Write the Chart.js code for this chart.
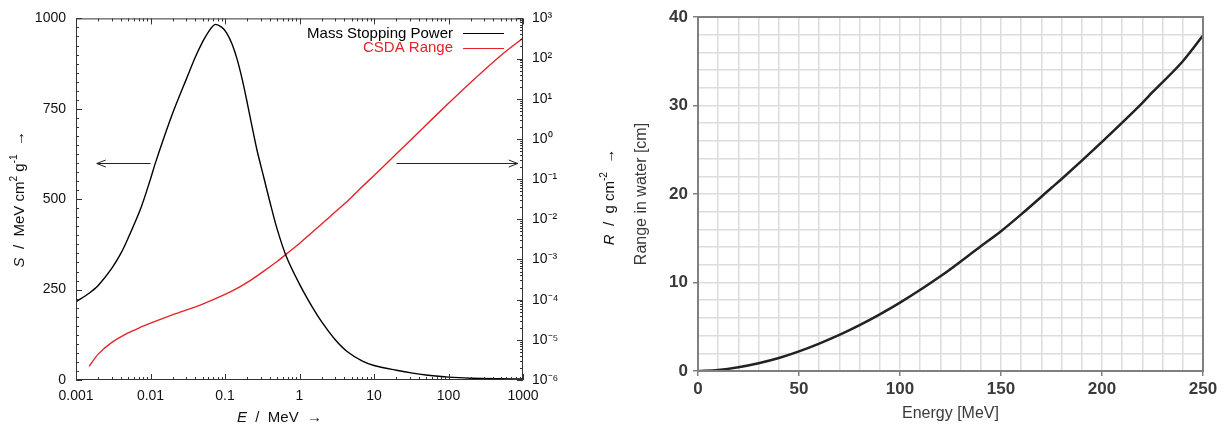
<!DOCTYPE html>
<html><head><meta charset="utf-8">
<script src="https://cdn.jsdelivr.net/npm/chart.js@4.4.1/dist/chart.umd.min.js"></script>
<style>
html,body{margin:0;padding:0;background:#fff;}
#wrap{position:relative;width:1226px;height:427px;overflow:hidden;}
#c1box{position:absolute;left:0;top:0;width:560px;height:427px;}
#c2box{position:absolute;left:560px;top:0;width:666px;height:427px;}
</style></head><body>
<div id="wrap"><div id="c1box"><canvas id="c1"></canvas></div><div id="c2box"><canvas id="c2"></canvas></div></div>
<script>
// ---- Left chart data (protons in water) ----
const spEnergy = [0.001,0.0015,0.002,0.003,0.004,0.005,0.0075,0.01,0.0115,0.015,0.02,0.025,0.03,0.04,0.05,0.06,0.073,0.09,0.105,0.125,0.145,0.17,0.195,0.235,0.27,0.33,0.4,0.5,0.67,1,1.5,2,3,4.4,7,10,20,33,50,100,200,500,1000];
const stoppingPower = [216,240,262,308,350,392,478,556,597,668,740,790,830,893,935,963,983,976,960,928,888,832,775,693,634,562,493,418,340,265,200,160,112,78,52,40,27,19,14,8,5,3.5,3];
const csdaEnergy = [0.0015,0.002,0.003,0.005,0.0075,0.01,0.02,0.05,0.1,0.158,0.22,0.35,0.5,0.67,1,2,3,4.5,6.5,10,20,50,100,200,500,1000];
const csdaRange = [2.19e-6,4.47e-6,8.5e-6,1.48e-5,2.09e-5,2.6e-5,4.22e-5,7.76e-5,1.35e-4,2.09e-4,3.02e-4,5.5e-4,8.9e-4,1.38e-3,2.51e-3,7.76e-3,1.51e-2,2.95e-2,5.75e-2,0.123,0.426,2.22,7.72,25.9,118,325];
const seriesNames = ['Mass Stopping Power','CSDA Range'];
const logXTicks = [0.001,0.01,0.1,1,10,100,1000];
const logXLabels = ['0.001','0.01','0.1','1','10','100','1000'];
const spTicks = [0,250,500,750,1000];
const spLabels = ['0','250','500','750','1000'];
const rangeLogTicks = [1e-6,1e-5,1e-4,1e-3,1e-2,1e-1,1,10,100,1000];
const rangeLogLabels = ['10⁻⁶','10⁻⁵','10⁻⁴','10⁻³','10⁻²','10⁻¹','10⁰','10¹','10²','10³'];
const arrowLevel = 600;
const leftArrowE = [0.01, 0.0019];
const rightArrowE = [20, 850];

// ---- Right chart data ----
const protonEnergy = [0,10,20,30,40,50,60,70,80,90,100,120,140,150,160,175,180,200,220,225,240,250];
const rangeWater = [0,0.12,0.43,0.88,1.47,2.22,3.1,4.08,5.18,6.4,7.72,10.7,14.1,15.8,17.7,20.7,21.7,25.9,30.3,31.5,35.0,37.9];
const energyTicks = [0,50,100,150,200,250];
const rangeTicks = [0,10,20,30,40];

const FAM = '"Liberation Sans", Arial, Helvetica, sans-serif';
const RED = '#e3242b';

function drawRich(ctx, segs, cx, cy, rot, size, color) {
  ctx.save();
  ctx.translate(cx, cy); ctx.rotate(rot);
  let total = 0;
  const parts = segs.map(s => {
    const sz = s.sup ? size * 0.68 : size;
    const f = (s.it ? 'italic ' : '') + sz + 'px ' + FAM;
    ctx.font = f;
    const w = ctx.measureText(s.t).width;
    total += w;
    return {t: s.t, f, w, dy: s.sup ? -size * 0.38 : 0};
  });
  let x = -total / 2;
  ctx.fillStyle = color; ctx.textBaseline = 'middle'; ctx.textAlign = 'left';
  for (const p of parts) { ctx.font = p.f; ctx.fillText(p.t, x, p.dy); x += p.w; }
  ctx.restore();
}

function arrow(ctx, x0, x1, y) {
  ctx.beginPath(); ctx.moveTo(x0, y); ctx.lineTo(x1, y); ctx.stroke();
  const d = x1 > x0 ? -1 : 1;
  ctx.beginPath(); ctx.moveTo(x1 + d * 9, y - 3.5); ctx.lineTo(x1, y); ctx.lineTo(x1 + d * 9, y + 3.5); ctx.stroke();
}

const leftDecor = {
  id: 'leftDecor',
  afterDatasetsDraw(chart) {
    const {ctx, chartArea: a, scales} = chart;
    const sx = scales.x, sy = scales.y, sy1 = scales.y1;
    ctx.save();
    ctx.strokeStyle = '#333'; ctx.lineWidth = 1;
    ctx.strokeRect(a.left + 0.5, a.top + 0.5, a.right - a.left - 1, a.bottom - a.top - 1);
    ctx.beginPath();
    for (let d = 0.001; d < 1000 * 1.01; d *= 10) {
      for (let m = 1; m <= 9; m++) {
        const v = d * m; if (v > 1000 * 1.001) break;
        const px = Math.round(sx.getPixelForValue(v)) + 0.5;
        const L = m === 1 ? 6 : 3;
        ctx.moveTo(px, a.bottom); ctx.lineTo(px, a.bottom - L);
        ctx.moveTo(px, a.top); ctx.lineTo(px, a.top + L);
      }
    }
    for (let v = 0; v <= 1000; v += 25) {
      const py = Math.round(sy.getPixelForValue(v)) + 0.5;
      const L = v % 250 === 0 ? 6 : 3;
      ctx.moveTo(a.left, py); ctx.lineTo(a.left + L, py);
    }
    for (let d = 1e-6; d < 1000 * 1.01; d *= 10) {
      for (let m = 1; m <= 9; m++) {
        const v = d * m; if (v > 1000 * 1.001) break;
        const py = Math.round(sy1.getPixelForValue(v)) + 0.5;
        const L = m === 1 ? 6 : 3;
        ctx.moveTo(a.right, py); ctx.lineTo(a.right - L, py);
      }
    }
    ctx.stroke();
    ctx.strokeStyle = '#222'; ctx.lineWidth = 1;
    const ay = Math.round(sy.getPixelForValue(arrowLevel)) + 0.5;
    arrow(ctx, sx.getPixelForValue(leftArrowE[0]), sx.getPixelForValue(leftArrowE[1]), ay);
    arrow(ctx, sx.getPixelForValue(rightArrowE[0]), sx.getPixelForValue(rightArrowE[1]), ay);
    const colors = ['#000', RED];
    ctx.font = '15px ' + FAM; ctx.textAlign = 'right'; ctx.textBaseline = 'middle';
    seriesNames.forEach((n, i) => {
      const y = a.top + 15 + i * 14.5;
      ctx.fillStyle = colors[i];
      ctx.fillText(n, a.right - 70, y);
      ctx.strokeStyle = colors[i]; ctx.lineWidth = 1;
      ctx.beginPath(); ctx.moveTo(a.right - 60, Math.round(y) + 0.5); ctx.lineTo(a.right - 19, Math.round(y) + 0.5); ctx.stroke();
    });
    drawRich(ctx, [{t:'S', it:1},{t:'  /  MeV cm'},{t:'2', sup:1},{t:' g'},{t:'-1', sup:1},{t:'  →'}], 20, (a.top + a.bottom) / 2, -Math.PI / 2, 15, '#111');
    drawRich(ctx, [{t:'E', it:1},{t:'  /  MeV  →'}], (a.left + a.right) / 2 - 20, 418, 0, 15, '#111');
    ctx.restore();
  }
};

new Chart(document.getElementById('c1'), {
  type: 'line',
  data: {
    datasets: [
      {label: seriesNames[0], data: spEnergy.map((e, i) => ({x: e, y: stoppingPower[i]})), yAxisID: 'y', borderColor: '#000', borderWidth: 1.4, pointRadius: 0, tension: 0.3, fill: false},
      {label: seriesNames[1], data: csdaEnergy.map((e, i) => ({x: e, y: csdaRange[i]})), yAxisID: 'y1', borderColor: RED, borderWidth: 1.4, pointRadius: 0, tension: 0.3, fill: false}
    ]
  },
  options: {
    responsive: true, maintainAspectRatio: false, animation: false,
    layout: {padding: {top: 17, left: 0, right: 0, bottom: 0}},
    plugins: {legend: {display: false}, tooltip: {enabled: false}},
    scales: {
      x: {type: 'logarithmic', min: 0.001, max: 1000,
          afterBuildTicks: s => { s.ticks = logXTicks.map(v => ({value: v})); },
          afterFit: s => { s.height = 47; },
          grid: {display: false, drawTicks: false}, border: {display: false},
          ticks: {callback: (v, i) => logXLabels[i], autoSkip: false, maxRotation: 0, padding: 8, color: '#111', font: {family: FAM, size: 14}}},
      y: {type: 'linear', position: 'left', min: 0, max: 1000,
          afterBuildTicks: s => { s.ticks = spTicks.map(v => ({value: v})); },
          afterFit: s => { s.width = 76; },
          grid: {display: false, drawTicks: false}, border: {display: false},
          ticks: {callback: (v, i) => spLabels[i], padding: 10, color: '#111', font: {family: FAM, size: 14}}},
      y1: {type: 'logarithmic', position: 'right', min: 1e-6, max: 1000,
          afterBuildTicks: s => { s.ticks = rangeLogTicks.map(v => ({value: v})); },
          afterFit: s => { s.width = 37; },
          grid: {display: false, drawTicks: false}, border: {display: false},
          ticks: {callback: (v, i) => rangeLogLabels[i], autoSkip: false, padding: 9, color: '#111', font: {family: FAM, size: 14}}}
    }
  },
  plugins: [leftDecor]
});

const rightDecor = {
  id: 'rightDecor',
  afterDatasetsDraw(chart) {
    const {ctx, chartArea: a} = chart;
    ctx.save();
    ctx.strokeStyle = '#808080'; ctx.lineWidth = 2;
    ctx.strokeRect(a.left, a.top, a.right - a.left, a.bottom - a.top);
    drawRich(ctx, [{t:'R', it:1},{t:'  /  g cm'},{t:'-2', sup:1},{t:'  →'}], 50, (a.top + a.bottom) / 2 + 3, -Math.PI / 2, 15, '#111');
    ctx.restore();
  }
};

new Chart(document.getElementById('c2'), {
  type: 'line',
  data: {
    datasets: [{label: 'Range', data: protonEnergy.map((e, i) => ({x: e, y: rangeWater[i]})), borderColor: '#222', borderWidth: 2.5, pointRadius: 0, cubicInterpolationMode: 'monotone', fill: false}]
  },
  options: {
    responsive: true, maintainAspectRatio: false, animation: false,
    layout: {padding: {top: 17, left: 0, right: 23, bottom: 0}},
    plugins: {legend: {display: false}, tooltip: {enabled: false}},
    scales: {
      x: {type: 'linear', min: 0, max: 250,
          afterFit: s => { s.height = 56; },
          grid: {color: '#dcdcdc', lineWidth: 1.5, tickLength: 5, tickColor: c => energyTicks.includes(c.tick.value) ? '#808080' : 'rgba(0,0,0,0)'},
          border: {display: false},
          ticks: {stepSize: 10, autoSkip: false, maxRotation: 0, padding: 3, callback: v => energyTicks.includes(v) ? String(v) : '', color: '#3a3a3a', font: {family: FAM, size: 17, weight: 'bold'}},
          title: {display: true, text: 'Energy [MeV]', color: '#3a3a3a', font: {family: FAM, size: 16}, padding: {top: 0, bottom: 4}}},
      y: {type: 'linear', min: 0, max: 40,
          afterFit: s => { s.width = 138; },
          grid: {color: '#dcdcdc', lineWidth: 1.5, tickLength: 5, tickColor: c => rangeTicks.includes(c.tick.value) ? '#808080' : 'rgba(0,0,0,0)'},
          border: {display: false},
          ticks: {stepSize: 2, autoSkip: false, padding: 5, callback: v => rangeTicks.includes(v) ? String(v) : '', color: '#3a3a3a', font: {family: FAM, size: 17, weight: 'bold'}},
          title: {display: true, text: 'Range in water [cm]', color: '#3a3a3a', font: {family: FAM, size: 16}, padding: {top: 72, bottom: 0}}}
    }
  },
  plugins: [rightDecor]
});
</script>
</body></html>
